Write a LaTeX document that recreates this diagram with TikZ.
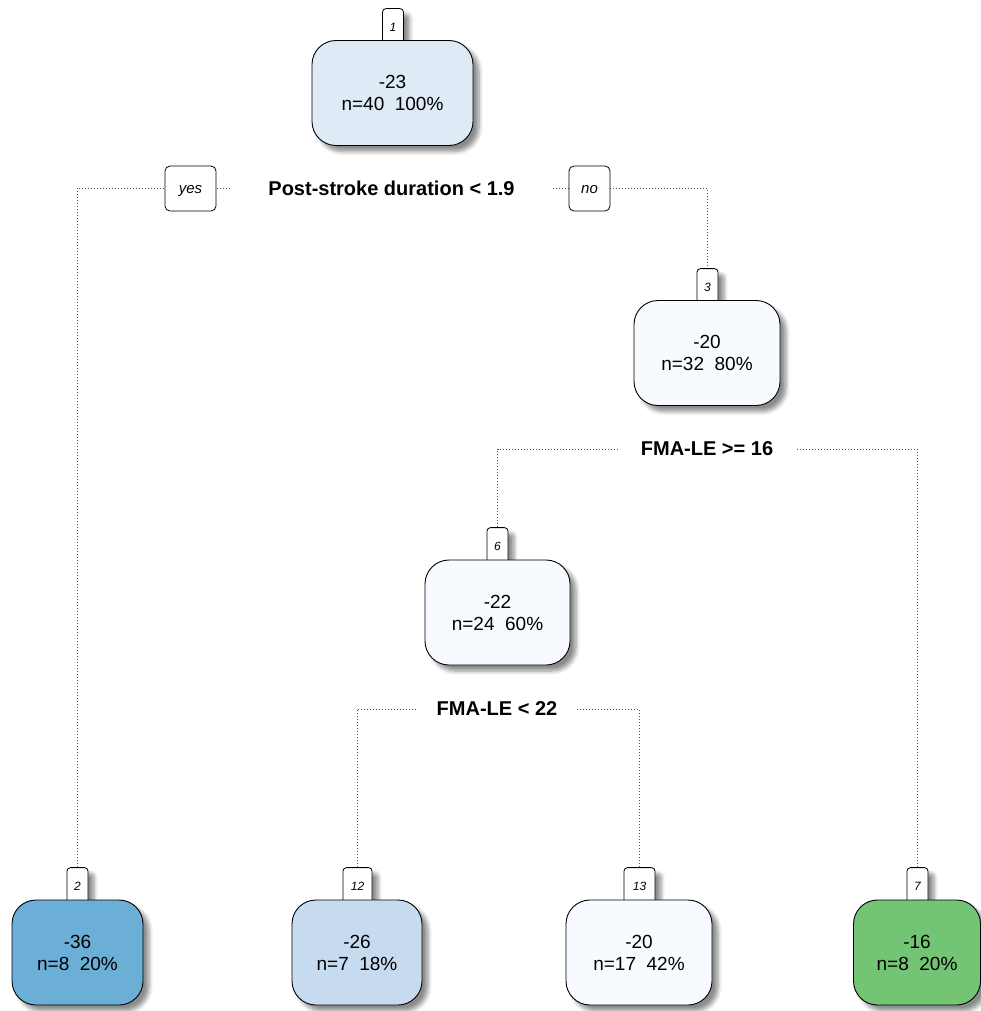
\documentclass[tikz,border=0pt]{standalone}
\usepackage{fontspec}
\setmainfont{Liberation Sans}
\usetikzlibrary{shadows.blur,backgrounds}

\definecolor{fillA}{HTML}{DEEBF7}
\definecolor{fillB}{HTML}{F7FBFF}
\definecolor{fillC}{HTML}{C6DBEF}
\definecolor{fillD}{HTML}{6BAED6}
\definecolor{fillE}{HTML}{74C476}
\definecolor{branchcol}{HTML}{555555}

\tikzset{
  x=1pt, y=-1pt,
  softshadow/.style={blur shadow={shadow xshift=6pt, shadow yshift=-6pt,
      shadow blur radius=4pt, shadow blur steps=6, shadow opacity=45}},
  treenode/.style={draw=black, line width=0.9pt, rounded corners=24pt,
      minimum height=105pt, align=center, inner sep=0pt,
      font=\fontsize{19}{22}\selectfont, softshadow},
  numtag/.style={draw=black, line width=0.8pt, rounded corners=3.5pt,
      minimum width=21pt, minimum height=37pt, fill=white, anchor=south,
      inner sep=1pt, text depth=0pt,
      font=\fontsize{12}{12}\selectfont\itshape, softshadow},
  splitlabel/.style={fill=white, inner ysep=3pt,
      font=\fontsize{20}{20}\selectfont\bfseries},
  answer/.style={draw=black, line width=0.8pt, rounded corners=5pt,
      fill=white, minimum height=45pt, inner sep=1pt,
      text height=12pt, text depth=2pt,
      font=\fontsize{15}{15}\selectfont\itshape},
  branch/.style={draw=branchcol, line width=0.9pt,
      dash pattern=on 0.9pt off 2.1pt},
}

\begin{document}
\begin{tikzpicture}
\useasboundingbox (0,0) rectangle (980,1011);

% number tags (drawn first, the boxes cover their lower ends)
\node[numtag] (l1)  at (393,46)   {1};
\node[numtag] (l3)  at (707.5,306) {3};
\node[numtag] (l6)  at (497.5,565) {6};
\node[numtag] (l2)  at (77.5,905)  {2};
\node[numtag, minimum width=29pt] (l12) at (357.5,905) {12};
\node[numtag, minimum width=31pt] (l13) at (639.5,905) {13};
\node[numtag] (l7)  at (917.5,905) {7};

% tree nodes
\node[treenode, fill=fillA, minimum width=161pt] (n1)  at (392.5,93)  {-23\\n=40\ \ 100\%};
\node[treenode, fill=fillB, minimum width=146pt] (n3)  at (707,353)   {-20\\n=32\ \ 80\%};
\node[treenode, fill=fillB, minimum width=145pt] (n6)  at (497.5,612.5) {-22\\n=24\ \ 60\%};
\node[treenode, fill=fillD, minimum width=131pt] (n2)  at (77.5,952.5) {-36\\n=8\ \ 20\%};
\node[treenode, fill=fillC, minimum width=130pt] (n12) at (357,952.5)  {-26\\n=7\ \ 18\%};
\node[treenode, fill=fillB, minimum width=146pt] (n13) at (639,952.5)  {-20\\n=17\ \ 42\%};
\node[treenode, fill=fillE, minimum width=127pt] (n7)  at (917,952.5)  {-16\\n=8\ \ 20\%};

% split conditions
\node[splitlabel, inner xsep=36pt] (s1) at (391.5,188) {Post-stroke duration < 1.9};
\node[splitlabel, inner xsep=22pt] (s3) at (707,449)   {FMA-LE >= 16};
\node[splitlabel, inner xsep=19pt] (s6) at (497,709)   {FMA-LE < 22};

\node[answer, minimum width=51pt] (yes) at (190.5,188.5) {yes};
\node[answer, minimum width=41pt] (no)  at (589.5,188.5) {no};

% branches
\begin{pgfonlayer}{background}
\draw[branch] (l2.north)  |- (s1.center) -| (l3.north);
\draw[branch] (l6.north)  |- (s3.center) -| (l7.north);
\draw[branch] (l12.north) |- (s6.center) -| (l13.north);
\end{pgfonlayer}
\end{tikzpicture}
\end{document}
